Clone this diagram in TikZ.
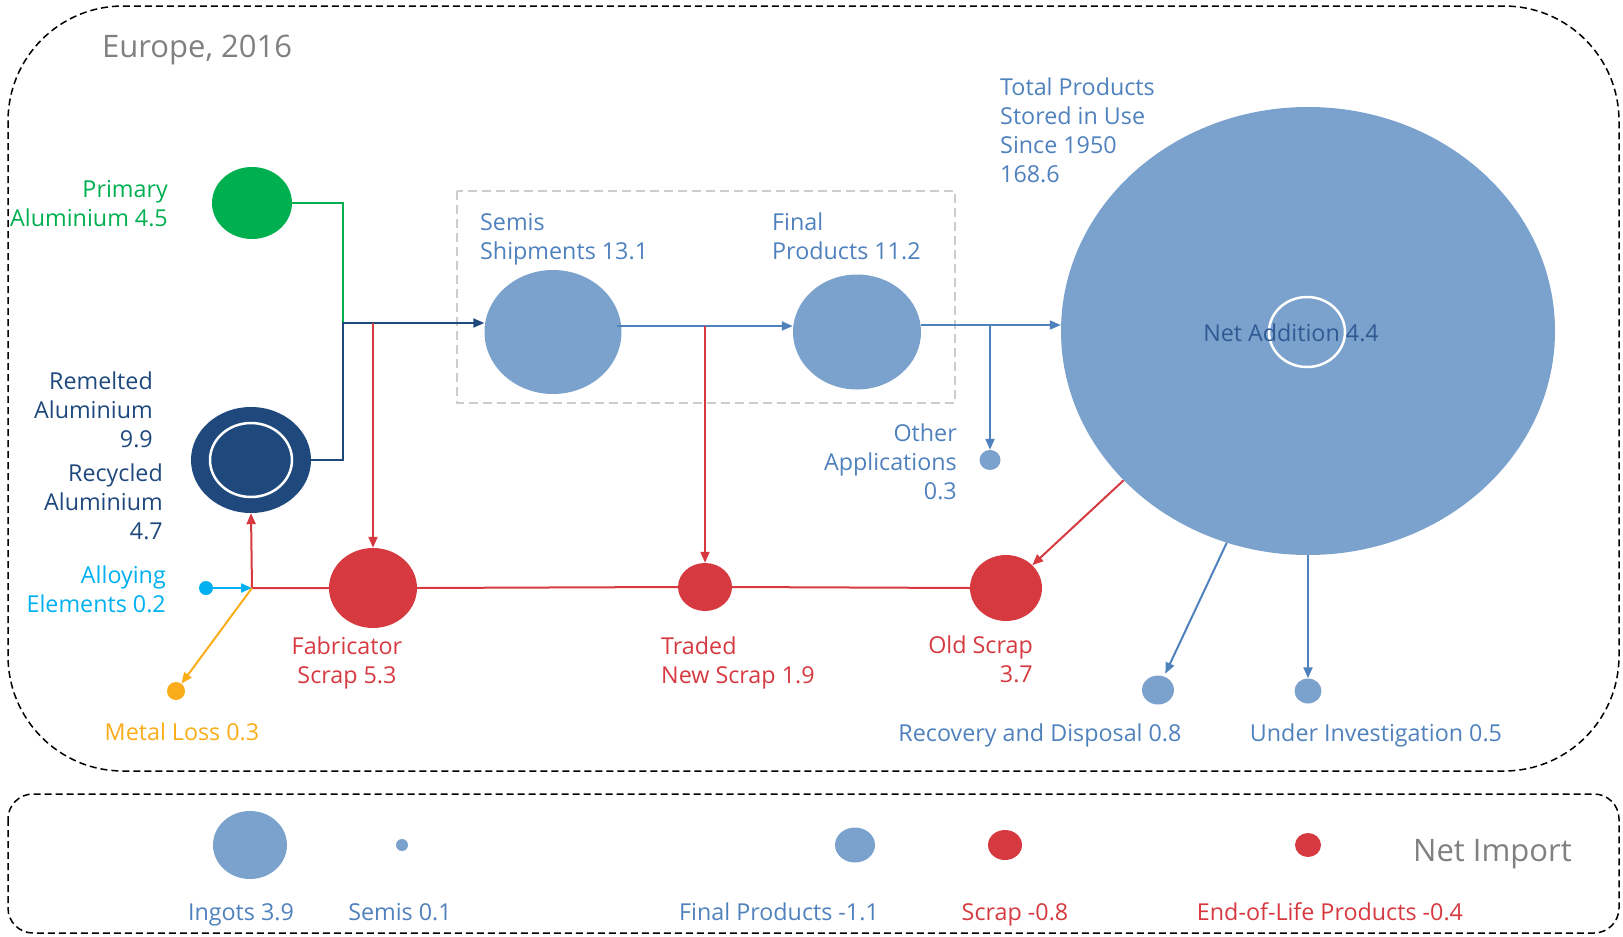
\documentclass[tikz,border=0pt]{standalone}
\usepackage{fontspec}
\setmainfont{Open Sans}
\usetikzlibrary{shapes.geometric,arrows.meta,calc}
\definecolor{lblue}{RGB}{123,162,204}
\definecolor{tblue}{RGB}{79,129,189}
\definecolor{dblue}{RGB}{31,73,125}
\definecolor{pgreen}{RGB}{0,176,80}
\definecolor{sred}{RGB}{214,58,64}
\definecolor{acyan}{RGB}{0,176,240}
\definecolor{morange}{RGB}{250,173,25}
\definecolor{tgray}{RGB}{128,128,128}
\definecolor{ngray}{RGB}{205,205,205}
\definecolor{nblue}{RGB}{47,90,148}
\begin{document}
\begin{tikzpicture}[x=1pt,y=-1pt,
  blob/.style={ellipse,inner sep=0pt,draw=none},
  ring/.style={ellipse,inner sep=0pt,draw=white,line width=2.5pt},
  lbl/.style={inner sep=0pt,font=\fontsize{23.3}{29}\selectfont},
  big lbl/.style={inner sep=0pt,font=\fontsize{31}{36}\selectfont,text=tgray},
  flow/.style={line width=2pt},
  tip/.style={-{Triangle[length=11pt,width=9pt]}},
  outerbox/.style={draw=black,line width=1.5pt,dash pattern=on 7pt off 4pt},
]
\useasboundingbox (0,0) rectangle (1623,937);
% frames
\draw[outerbox,rounded corners=115pt] (8,6) rectangle (1619,771);
\draw[outerbox,rounded corners=25pt] (8,794) rectangle (1619,933);
\draw[ngray,line width=1.5pt,dash pattern=on 9pt off 5pt] (457,191) rectangle (955,403);

\node[big lbl,anchor=west] (title) at (102,50) {Europe, 2016};

% stocks and flows
\node[blob,fill=pgreen,minimum width=80pt,minimum height=72pt] (prim) at (252,203) {};
\node[blob,fill=dblue,minimum width=120pt,minimum height=106pt] (rem) at (251,460) {};
\node[ring,minimum width=82pt,minimum height=74pt] (remring) at (251,460) {};
\node[blob,fill=lblue,minimum width=137pt,minimum height=124pt] (semis) at (553,332) {};
\node[blob,fill=lblue,minimum width=128pt,minimum height=115pt] (final) at (857,332) {};
\node[blob,fill=lblue,minimum width=494pt,minimum height=448pt] (big) at (1308,331) {};
\node[ring,minimum width=76pt,minimum height=70pt] (bigring) at (1307,332) {};
\node[blob,fill=sred,minimum width=88pt,minimum height=80pt] (fab) at (373,588) {};
\node[blob,fill=sred,minimum width=54pt,minimum height=48pt] (traded) at (705,587) {};
\node[blob,fill=sred,minimum width=72pt,minimum height=66pt] (old) at (1006,588) {};
\node[blob,fill=lblue,minimum width=21pt,minimum height=20pt] (oth) at (990,460) {};
\node[blob,fill=lblue,minimum width=32pt,minimum height=29pt] (rec) at (1158,690) {};
\node[blob,fill=lblue,minimum width=27pt,minimum height=25pt] (uinv) at (1308,691) {};
\node[blob,fill=acyan,minimum width=14pt,minimum height=14pt] (alloy) at (206,588) {};
\node[blob,fill=morange,minimum width=18pt,minimum height=18pt] (mloss) at (176,691) {};

\coordinate (jA) at (343,323);
\coordinate (jB) at (373,323);
\coordinate (jC) at (705,326);
\coordinate (jD) at (990,325);
\coordinate (jE) at (252,588);

\draw[flow,pgreen] (prim.east) -| (jA);
\draw[flow,dblue,tip] (rem.east) -| (jA) -- (jA -| semis.west);
\draw[flow,sred,tip] (jB) -- (fab.north);
\draw[flow,tblue,tip] ($(semis.east)+(-5,-6)$) -- ($(final.west)+(0,-6)$);
\draw[flow,sred,tip] (jC) -- (traded.north);
\draw[flow,tblue,tip] ($(final.east)+(0,-7)$) -- (big.west |- jD);
\draw[flow,tblue,tip] (jD) -- (oth.north);
\draw[flow,sred] (jE) -- (fab.west) (fab.east) -- (traded.west) (traded.east) -- (old.west);
\draw[flow,sred,tip] (jE) -- (rem.south);
\draw[flow,acyan,tip] (alloy.east) -- (jE);
\draw[flow,morange,tip] (jE) -- (mloss);
\draw[flow,sred,tip] (big.219) -- (old.41);
\draw[flow,tblue,tip,shorten >=3pt] (big.249) -- (rec.66);
\draw[flow,tblue,tip] (big.south) -- (uinv.north);

% labels
\node[lbl,text=pgreen,align=right,anchor=east] (tprim) at (168,204) {Primary\\Aluminium 4.5};
\node[lbl,text=dblue,align=right,anchor=east] (trem) at (153,410) {Remelted\\Aluminium\\9.9};
\node[lbl,text=dblue,align=right,anchor=east] (trec) at (163,502) {Recycled\\Aluminium\\4.7};
\node[lbl,text=acyan,align=right,anchor=east] (tall) at (166,589) {Alloying\\Elements 0.2};
\node[lbl,text=morange] (tml) at (182,732) {Metal Loss 0.3};
\node[lbl,text=sred,align=center] (tfab) at (347,663) {Fabricator\\Scrap 5.3};
\node[lbl,text=sred,align=left,anchor=west] (ttr) at (661,663) {Traded\\New Scrap 1.9};
\node[lbl,text=sred,align=right,anchor=east] (told) at (1033,659) {Old Scrap\\3.7};
\node[lbl,text=tblue,align=left,anchor=west] (tsem) at (480,239) {Semis\\Shipments 13.1};
\node[lbl,text=tblue,align=left,anchor=west] (tfin) at (772,236) {Final\\Products 11.2};
\node[lbl,text=tblue,align=right,anchor=east] (toth) at (957,462) {Other\\Applications\\0.3};
\node[lbl,text=tblue,align=left,anchor=west] (ttot) at (1000,130) {Total Products\\Stored in Use\\Since 1950\\168.6};
\node[lbl,text=nblue] (tnet) at (1291,333) {Net Addition 4.4};
\node[lbl,text=tblue,anchor=base] (trecd) at (1040,741) {Recovery and Disposal 0.8};
\node[lbl,text=tblue,anchor=base] (tuinv) at (1376,741) {Under Investigation 0.5};

% legend
\node[blob,fill=lblue,minimum width=74pt,minimum height=68pt] (ling) at (250,845) {};
\node[blob,fill=lblue,minimum width=12pt,minimum height=12pt] (lsem) at (402,845) {};
\node[blob,fill=lblue,minimum width=40pt,minimum height=35pt] (lfp) at (855,845) {};
\node[blob,fill=sred,minimum width=34pt,minimum height=30pt] (lscr) at (1005,845) {};
\node[blob,fill=sred,minimum width=26pt,minimum height=24pt] (leol) at (1308,845) {};
\node[lbl,text=tblue,anchor=base] (tling) at (241,920) {Ingots 3.9};
\node[lbl,text=tblue,anchor=base] (tlsem) at (400,920) {Semis 0.1};
\node[lbl,text=tblue,anchor=base] (tlfp) at (779,920) {Final Products -1.1};
\node[lbl,text=sred,anchor=base] (tlscr) at (1015,920) {Scrap -0.8};
\node[lbl,text=sred,anchor=base] (tleol) at (1330,920) {End-of-Life Products -0.4};
\node[big lbl,anchor=west] (tnimp) at (1413,854) {Net Import};
\end{tikzpicture}
\end{document}
